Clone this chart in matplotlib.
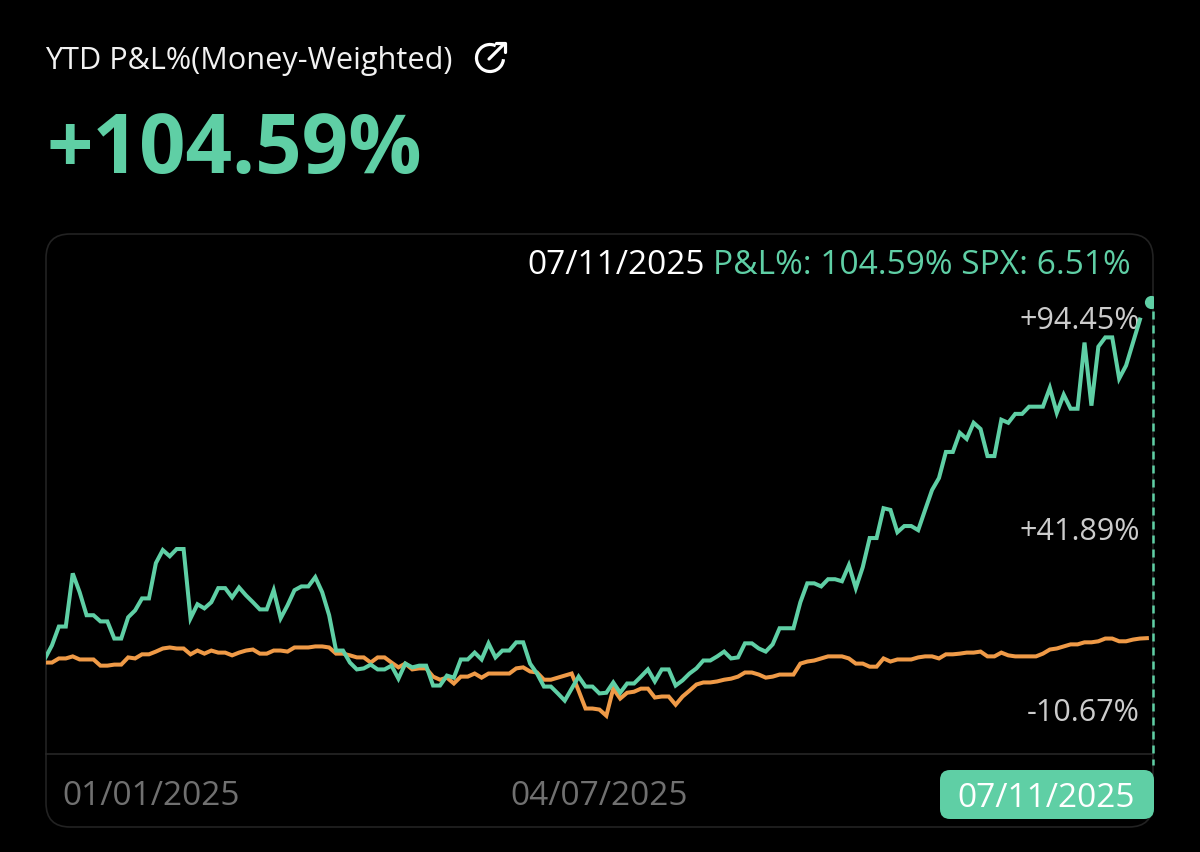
import matplotlib
matplotlib.use('Agg')
import matplotlib.pyplot as plt
from matplotlib.patches import FancyBboxPatch, Arc

plt.rcParams['font.family'] = ['Open Sans', 'DejaVu Sans']

# P&L% values
pnl = [0.6, 4.4, 9.9, 9.9, 25.4, 19.9, 13.2, 13.2, 11.4, 11.4, 6.4, 6.4, 12.6, 14.6, 18.1, 18.1,
       28.4, 32.2, 30.4, 32.5, 32.5, 12.3, 16.4, 15.2, 17.0, 21.1, 21.1, 18.4, 21.3, 19.0, 17.0, 14.9,
       14.9, 20.5, 12.3, 16.1, 20.5, 21.6, 21.6, 24.3, 19.9, 13.2, 2.9, 2.9, -0.6, -2.6, -2.3, -1.2,
       -2.6, -2.6, -1.5, -5.3, -0.9, -2.0, -1.5, -1.5, -7.3, -7.3, -4.4, -5.0, 0.3, 0.3, 2.3, 0.3,
       5.0, 0.9, 2.9, 2.9, 5.3, 5.3, -0.9, -3.8, -7.6, -7.6, -9.6, -11.7, -8.2, -4.7, -7.6, -7.6,
       -9.6, -9.4, -6.4, -9.4, -6.7, -6.7, -4.7, -2.6, -6.1, -2.6, -2.6, -7.3, -5.8, -3.8, -2.3, 0.0,
       0.0, 1.2, 2.6, 0.6, 0.9, 5.0, 5.0, 3.5, 2.6, 4.7, 9.4, 9.4, 9.4, 17.0, 22.5, 22.5,
       21.6, 23.7, 23.7, 23.1, 27.8, 21.1, 27.2, 35.7, 35.7, 44.4, 43.9, 37.4, 39.2, 39.2, 38.0, 43.9,
       49.7, 53.2, 60.8, 60.8, 66.4, 64.6, 69.3, 67.5, 59.6, 59.6, 70.2, 69.3, 71.9, 71.9, 74.0, 74.0,
       74.0, 79.5, 72.2, 77.5, 73.4, 73.4, 92.7, 74.3, 91.5, 94.2, 94.2, 82.2, 86.0, 92.7, 99.4]

# SPX values
spx = [-0.6, -0.6, 0.6, 0.6, 1.2, 0.3, 0.3, 0.3, -1.5, -1.5, -1.2, -1.2, 0.9, 0.6, 1.8, 1.8,
       2.6, 3.5, 3.8, 3.5, 3.5, 1.8, 2.9, 2.0, 2.9, 2.3, 2.3, 1.5, 2.3, 2.9, 3.2, 2.0,
       2.0, 2.9, 2.9, 2.6, 3.8, 3.8, 3.8, 4.1, 4.1, 3.8, 2.0, 2.0, 1.5, 0.9, 0.9, -0.6,
       0.9, 0.9, -0.6, -2.0, -0.9, -2.6, -2.3, -2.3, -4.7, -5.6, -5.0, -6.7, -4.7, -4.7, -3.8, -5.0,
       -3.8, -3.8, -3.8, -3.8, -2.3, -2.0, -3.2, -3.5, -5.6, -5.6, -5.0, -4.4, -3.8, -8.8, -14.0, -14.0,
       -14.3, -16.1, -8.2, -11.1, -9.4, -9.1, -8.2, -8.2, -10.8, -10.5, -10.5, -12.9, -10.5, -8.8, -7.0, -6.4,
       -6.4, -6.1, -5.6, -5.3, -4.7, -3.5, -3.5, -4.1, -5.0, -4.7, -4.1, -4.1, -4.1, -0.9, -0.3, 0.0,
       0.6, 1.2, 1.2, 1.2, 0.6, -0.9, -0.9, -1.8, -1.8, 0.6, -0.3, 0.3, 0.3, 0.3, 0.9, 1.2,
       1.2, 0.6, 1.8, 1.8, 2.0, 2.3, 2.3, 2.6, 1.2, 1.2, 2.3, 1.5, 1.2, 1.2, 1.2, 1.2,
       2.0, 3.2, 3.5, 4.1, 4.7, 4.7, 5.3, 5.3, 5.6, 6.4, 6.4, 5.6, 5.6, 6.1, 6.4, 6.51]

y_labels = ['+94.45%', '+41.89%', '-10.67%']
x_labels = ['01/01/2025', '04/07/2025', '07/11/2025']
last_pnl = 104.59

GREEN = '#5fcfa5'
ORANGE = '#ef9a47'
GREY = '#cccccc'
DIM = '#707070'
W, H = 1200, 853

fig = plt.figure(figsize=(W / 100, H / 100), dpi=100, facecolor='black')

# page layer in pixels, for the card and the header
bg = fig.add_axes([0, 0, 1, 1])
bg.set_xlim(0, W)
bg.set_ylim(H, 0)
bg.axis('off')

card = FancyBboxPatch((46, 235), 1107, 593, boxstyle='round,pad=0,rounding_size=24',
                      fc='black', ec='#222222', lw=1.2)
bg.add_patch(card)
bg.plot([46, 1153], [754.5, 754.5], color='#262626', lw=1.2)

bg.text(45, 61, 'YTD P&L%(Money-Weighted)', color='#f2f2f2', fontsize=22.1, va='center', ha='left')
bg.text(46, 151, '+104.59%', color=GREEN, fontsize=58.7, fontweight='bold', va='center', ha='left')

# share icon
bg.add_patch(Arc((490, 59), 27, 27, theta1=5, theta2=295, color='white', lw=2.3))
bg.plot([489, 504], [60, 45], color='white', lw=2.3, solid_capstyle='round')
bg.plot([496, 505, 505], [44, 44, 53], color='white', lw=2.3, solid_capstyle='round')

# chart layer: x is the trading step, y is percent
x0, step = 45, 6.93
zero_px, px_per_pct = 661.5, 3.43
left, right, top, bottom = 46, 1153, 235, 755
ax = fig.add_axes([left / W, 1 - bottom / H, (right - left) / W, (bottom - top) / H])
ax.set_xlim((left - x0) / step, (right - x0) / step)
ax.set_ylim((zero_px - bottom) / px_per_pct, (zero_px - top) / px_per_pct)
ax.axis('off')
ax.patch.set_alpha(0)

ax.plot(range(len(spx)), spx, color=ORANGE, lw=2.9, solid_joinstyle='miter')
ax.plot(range(len(pnl)), pnl, color=GREEN, lw=2.9, solid_joinstyle='miter')

# marker and dashed guide for the last day
last_x = (1150.5 - x0) / step
ax.plot([last_x], [last_pnl], 'o', color=GREEN, ms=9.5, mew=0, clip_on=True)
bg.plot([1152.5, 1152.5], [312, 766], color=GREEN, lw=1.8, ls=(0, (3.2, 2.4)))

bg.text(1131, 265, 'P&L%: 104.59% SPX: 6.51%', color=GREEN, fontsize=24.1, va='center', ha='right')
bg.text(527, 265, '07/11/2025', color='white', fontsize=24.1, va='center', ha='left')

for label, py in zip(y_labels, [321, 532, 713]):
    bg.text(1140, py, label, color=GREY, fontsize=22, va='center', ha='right')

bg.text(62, 797, x_labels[0], color=DIM, fontsize=24.1, va='center', ha='left')
bg.text(599, 797, x_labels[1], color=DIM, fontsize=24.1, va='center', ha='center')

badge = FancyBboxPatch((940, 771), 214, 49, boxstyle='round,pad=0,rounding_size=10', fc=GREEN, ec='none')
bg.add_patch(badge)
bg.text(1046, 799, x_labels[2], color='white', fontsize=24.1, va='center', ha='center')

fig.savefig('out.png', dpi=100, facecolor='black')
